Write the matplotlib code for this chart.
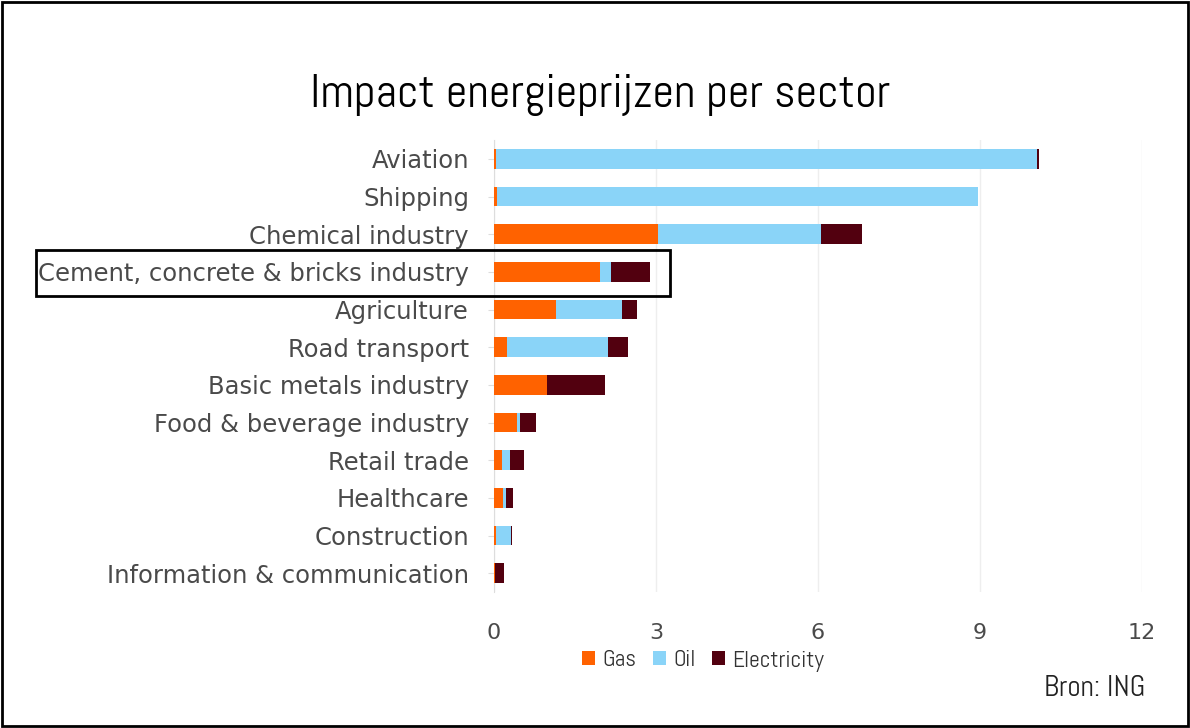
import numpy as np
import matplotlib.pyplot as plt
from matplotlib.patches import Rectangle

sectors = ["Aviation", "Shipping", "Chemical industry",
           "Cement, concrete & bricks industry", "Agriculture", "Road transport",
           "Basic metals industry", "Food & beverage industry", "Retail trade",
           "Healthcare", "Construction", "Information & communication"]
gas = [0.03, 0.05, 3.04, 1.96, 1.15, 0.24, 0.98, 0.43, 0.15, 0.17, 0.03, 0.02]
oil = [10.03, 8.91, 3.01, 0.20, 1.22, 1.87, 0.00, 0.05, 0.15, 0.05, 0.28, 0.00]
electricity = [0.04, 0.00, 0.76, 0.73, 0.28, 0.37, 1.08, 0.30, 0.26, 0.14, 0.03, 0.16]

c_gas = "#FF6200"
c_oil = "#8AD4F8"
c_elec = "#52000F"
txt = "#4a4a4a"
narrow = "Abel"

fig = plt.figure(figsize=(11.9, 7.28), dpi=100)
ax = fig.add_axes([494 / 1190, 1 - 592 / 728, 648 / 1190, 452 / 728])

y = np.arange(len(sectors))
gas = np.array(gas)
oil = np.array(oil)
electricity = np.array(electricity)
h = 0.53
ax.barh(y, gas, height=h, color=c_gas, label="Gas", zorder=3)
ax.barh(y, oil, left=gas, height=h, color=c_oil, label="Oil", zorder=3)
ax.barh(y, electricity, left=gas + oil, height=h, color=c_elec,
        label="Electricity", zorder=3)

ax.set_xlim(0, 12)
ax.set_ylim(len(sectors) - 0.5, -0.5)
ax.set_xticks([0, 3, 6, 9, 12])
ax.set_yticks(y)
ax.set_yticklabels(sectors, fontsize=17.5, color=txt)
ax.tick_params(axis="x", length=0, labelsize=16, labelcolor=txt, pad=22)
ax.tick_params(axis="y", length=4, color="#dddddd", pad=14)
ax.grid(axis="x", color="#eeeeee", linewidth=1, zorder=0)
for s in ["top", "right", "bottom"]:
    ax.spines[s].set_visible(False)
ax.spines["left"].set_color("#dddddd")

fig.text(600 / 1190, 1 - 95 / 728, "Impact energieprijzen per sector",
         ha="center", va="center", fontsize=34, family=narrow, color="black")

leg = fig.legend(loc="center", bbox_to_anchor=(703 / 1190, 1 - 661 / 728),
                 ncol=3, frameon=False, handlelength=0.55, handleheight=0.55,
                 handletextpad=0.3, columnspacing=0.7, labelcolor="#333333",
                 prop={"family": narrow, "size": 17})

fig.text(1095 / 1190, 1 - 689 / 728, "Bron: ING", ha="center", va="center",
         fontsize=21, family=narrow, color="#222222")

# box around the cement row
fig.patches.append(Rectangle((36 / 1190, 1 - 296 / 728), 634 / 1190, 46 / 728,
                             transform=fig.transFigure, fill=False,
                             edgecolor="black", linewidth=2))
# outer frame
fig.patches.append(Rectangle((0.002, 0.003), 0.996, 0.994,
                             transform=fig.transFigure, fill=False,
                             edgecolor="black", linewidth=2))

fig.savefig("out.png", dpi=100)
